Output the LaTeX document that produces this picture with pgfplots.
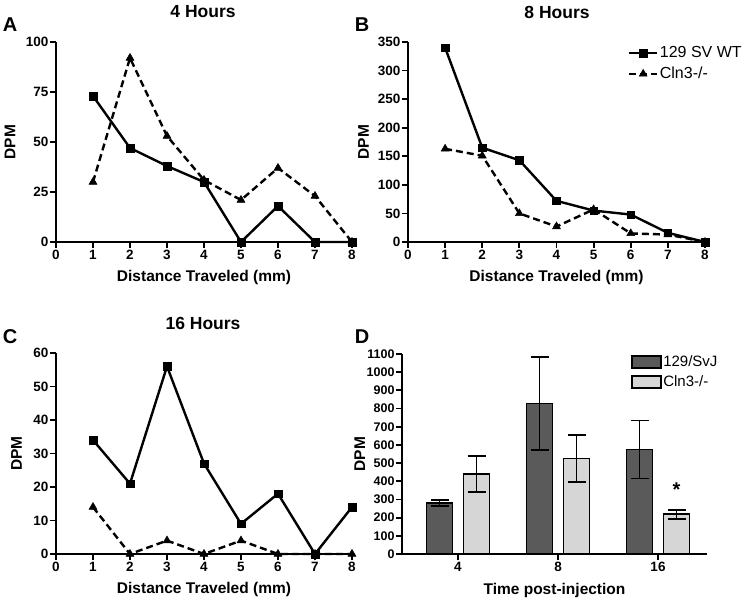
\documentclass[border=0pt]{standalone}
\usepackage{fontspec}
\setmainfont{Liberation Sans}
\usepackage{pgfplots}
\pgfplotsset{compat=1.18}
\definecolor{darkbar}{HTML}{5A5A5A}
\definecolor{lightbar}{HTML}{D6D6D6}
\pgfplotsset{
  panel/.style={
    scale only axis, anchor=south west, clip=false,
    axis x line*=bottom, axis y line*=left,
    axis line style={-, line width=2pt, black},
    tick style={line width=1.8pt, black},
    major tick length=6pt, tick align=outside,
    /pgf/number format/assume math mode=true,
    /pgf/number format/1000 sep={},
    ticklabel style={font=\bfseries\fontsize{13.5}{15}\selectfont},
    xticklabel style={yshift=1pt},
    yticklabel style={xshift=2pt},
    label style={font=\bfseries\fontsize{15.5}{18}\selectfont},
    scaled y ticks=false,
  },
  linepanel/.style={panel, xmin=0, xmax=8, ymin=0, xtick={0,...,8},
    xlabel={Distance Traveled (mm)}, ylabel={DPM},
    xlabel style={at={(axis description cs:0.5,-0.175)}, anchor=center},
    legend image code/.code={\draw[mark repeat=2,mark phase=2,#1] plot coordinates {(0pt,0pt) (14pt,0pt) (28pt,0pt)};},
  },
  wt/.style={black, line width=2.4pt, mark=square*, mark size=3.8pt, mark options={solid, line width=0.5pt}},
  ko/.style={black, line width=2.4pt, dash pattern=on 7pt off 4pt, mark=triangle*, mark size=4.6pt, mark options={solid, line width=0.5pt}},
}
\begin{document}
\begin{tikzpicture}
\useasboundingbox (0,0) rectangle (750pt,606pt);
% Panel A
\begin{axis}[linepanel, at={(56pt,364pt)}, width=296pt, height=200pt,
  ymax=100, ytick={0,25,50,75,100},
  ylabel style={at={(axis description cs:-0.155,0.5)}, anchor=center}]
\addplot[wt] coordinates {(1,73)(2,47)(3,38)(4,30)(5,0)(6,18)(7,0)(8,0)};
\addplot[ko] coordinates {(1,30)(2,92)(3,53)(4,31)(5,21)(6,37)(7,23)(8,0)};
\end{axis}
% Panel B
\begin{axis}[linepanel, at={(408pt,364pt)}, width=297pt, height=200pt,
  ymax=350, ytick={0,50,...,350},
  ylabel style={at={(axis description cs:-0.15,0.5)}, anchor=center},
  legend style={at={(axis description cs:0.74,0.985)}, anchor=north west,
    draw=none, fill=none, inner sep=0pt, row sep=5pt,
    font=\fontsize{16}{18}\selectfont, nodes={inner sep=1.5pt}},
  legend cell align=left]
\addplot[wt] coordinates {(1,340)(2,165)(3,143)(4,72)(5,55)(6,48)(7,16)(8,0)};
\addlegendentry{129 SV WT}
\addplot[ko] coordinates {(1,163)(2,151)(3,50)(4,27)(5,57)(6,15)(7,13)(8,0)};
\addlegendentry{Cln3-/-}
\end{axis}
% Panel C
\begin{axis}[linepanel, at={(56pt,52pt)}, width=296pt, height=201pt,
  ymax=60, ytick={0,10,...,60},
  ylabel style={at={(axis description cs:-0.133,0.5)}, anchor=center}]
\addplot[wt] coordinates {(1,34)(2,21)(3,56)(4,27)(5,9)(6,18)(7,0)(8,14)};
\addplot[ko] coordinates {(1,14)(2,0)(3,4)(4,0)(5,4)(6,0)(7,0)(8,0)};
\end{axis}
% Panel D
\begin{axis}[panel, at={(402pt,52pt)}, width=305pt, height=200pt,
  ybar=11pt, bar width=26pt,
  xmin=0.44, xmax=3.49, ymin=0, ymax=1100, ytick={0,100,...,1100},
  xtick={1,2,3}, xticklabels={4,8,16},
  yticklabel style={font=\bfseries\fontsize{12.5}{14}\selectfont},
  xlabel={Time post-injection}, ylabel={DPM},
  xlabel style={at={(axis description cs:0.5,-0.18)}, anchor=center},
  ylabel style={at={(axis description cs:-0.138,0.5)}, anchor=center},
  legend image code/.code={\draw[#1,/tikz/.cd,solid] (0pt,-6pt) rectangle (29pt,6pt);},
  legend style={at={(axis description cs:0.75,1.0)}, anchor=north west,
    draw=none, fill=none, inner sep=0pt, row sep=5pt,
    font=\fontsize{15}{17}\selectfont, nodes={inner sep=1.5pt}},
  legend cell align=left,
  error bars/y dir=both, error bars/y explicit,
  error bars/error bar style={line width=1.6pt, black},
  error bars/error mark options={rotate=90, mark size=9pt, line width=1.6pt, black}]
\addplot[fill=darkbar, draw=black, line width=1.8pt]
  table[x=x, y=y, y error=e] {
  x y e
  1 280 17
  2 828 257
  3 575 160
};
\addlegendentry{129/SvJ}
\addplot[fill=lightbar, draw=black, line width=1.8pt]
  table[x=x, y=y, y error=e] {
  x y e
  1 440 100
  2 525 130
  3 218 25
};
\addlegendentry{Cln3-/-}
\node[font=\bfseries\fontsize{20}{22}\selectfont] at (axis cs:3.185,355) {*};
\end{axis}
% Titles and panel letters
\node[font=\bfseries\fontsize{17.5}{20}\selectfont] at (203pt,594pt) {4 Hours};
\node[font=\bfseries\fontsize{17.5}{20}\selectfont] at (557pt,594pt) {8 Hours};
\node[font=\bfseries\fontsize{17.5}{20}\selectfont] at (203pt,283pt) {16 Hours};
\node[font=\bfseries\fontsize{20}{22}\selectfont] at (10pt,581pt) {A};
\node[font=\bfseries\fontsize{20}{22}\selectfont] at (362pt,581pt) {B};
\node[font=\bfseries\fontsize{20}{22}\selectfont] at (10pt,269pt) {C};
\node[font=\bfseries\fontsize{20}{22}\selectfont] at (362pt,269pt) {D};
\end{tikzpicture}
\end{document}
